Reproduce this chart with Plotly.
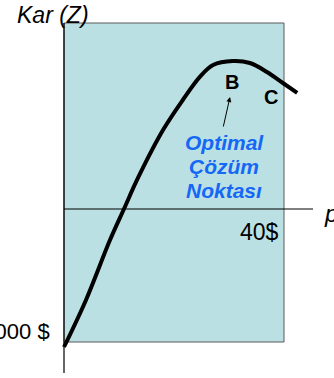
import plotly.graph_objects as go

# Profit curve: price p ($) vs profit Z ($)
price = [0, 4.0, 8.36, 10.9, 13.45, 18.0, 21.6, 24.7, 27.1, 30.7, 33.8, 36.9, 39.8, 42.4]
profit = [-1000, -659, -225, 0, 225, 572, 790, 957, 1043, 1072, 1058, 993, 913, 841]

W, H = 334, 378
# axis scale: origin pixel and px per unit
X0, SX = 64, 5.5
Y0, SY = 209, 0.138
xr = [(0 - X0) / SX, (W - X0) / SX]
yr = [(Y0 - H) / SY, Y0 / SY]

def fx(px):
    return (px - X0) / SX

def fy(py):
    return (Y0 - py) / SY

fig = go.Figure()

# shaded box
fig.add_shape(type="rect", x0=0, x1=40, y0=fy(342), y1=fy(23),
              fillcolor="#BBE0E3", line=dict(color="#5a5a5a", width=1), layer="below")
# axes lines
fig.add_shape(type="line", x0=0, x1=0, y0=fy(373), y1=fy(23),
              line=dict(color="black", width=1.2))
fig.add_shape(type="line", x0=0, x1=fx(313), y0=0, y1=0,
              line=dict(color="black", width=1.2))

fig.add_trace(go.Scatter(x=price, y=profit, mode="lines",
                         line=dict(color="black", width=4, shape="spline"),
                         hoverinfo="skip", showlegend=False))

font = "Liberation Sans, Arial, sans-serif"
ann = []
ann.append(dict(x=fx(15), y=fy(15), text="<i>Kar (Z)</i>", xanchor="left", yanchor="middle",
                font=dict(size=23, color="black", family=font)))
ann.append(dict(x=fx(322), y=fy(213), text="<i>p</i>", xanchor="left", yanchor="middle",
                font=dict(size=24, color="black", family=font)))
ann.append(dict(x=fx(281), y=fy(232), text="40$", xanchor="right", yanchor="middle",
                font=dict(size=23, color="black", family=font)))
ann.append(dict(x=fx(52), y=fy(331), text="-1000 $", xanchor="right", yanchor="middle",
                font=dict(size=22, color="black", family=font)))
ann.append(dict(x=fx(232), y=fy(82), text="<b>B</b>", xanchor="center", yanchor="middle",
                font=dict(size=20, color="black", family=font)))
ann.append(dict(x=fx(271), y=fy(97), text="<b>C</b>", xanchor="center", yanchor="middle",
                font=dict(size=20, color="black", family=font)))
for txt, py in [("Optimal", 142), ("Çözüm", 166), ("Noktası", 190)]:
    ann.append(dict(x=fx(224), y=fy(py), text="<b><i>" + txt + "</i></b>", xanchor="center",
                    yanchor="middle", font=dict(size=21, color="#1567F5", family=font)))
for a in ann:
    a.update(xref="x", yref="y", showarrow=False)
ann.append(dict(x=fx(230), y=fy(97), xref="x", yref="y", ax=-7, ay=31, text="",
                showarrow=True, arrowhead=2, arrowsize=1, arrowwidth=1, arrowcolor="black"))

fig.update_layout(
    width=W, height=H, margin=dict(l=0, r=0, t=0, b=0),
    paper_bgcolor="white", plot_bgcolor="white",
    xaxis=dict(range=xr, visible=False, fixedrange=True),
    yaxis=dict(range=yr, visible=False, fixedrange=True),
    annotations=ann, showlegend=False,
)
fig.write_html("out.html", config={"displayModeBar": False},
               post_script="document.body.style.margin='0';document.body.style.overflow='hidden';")
